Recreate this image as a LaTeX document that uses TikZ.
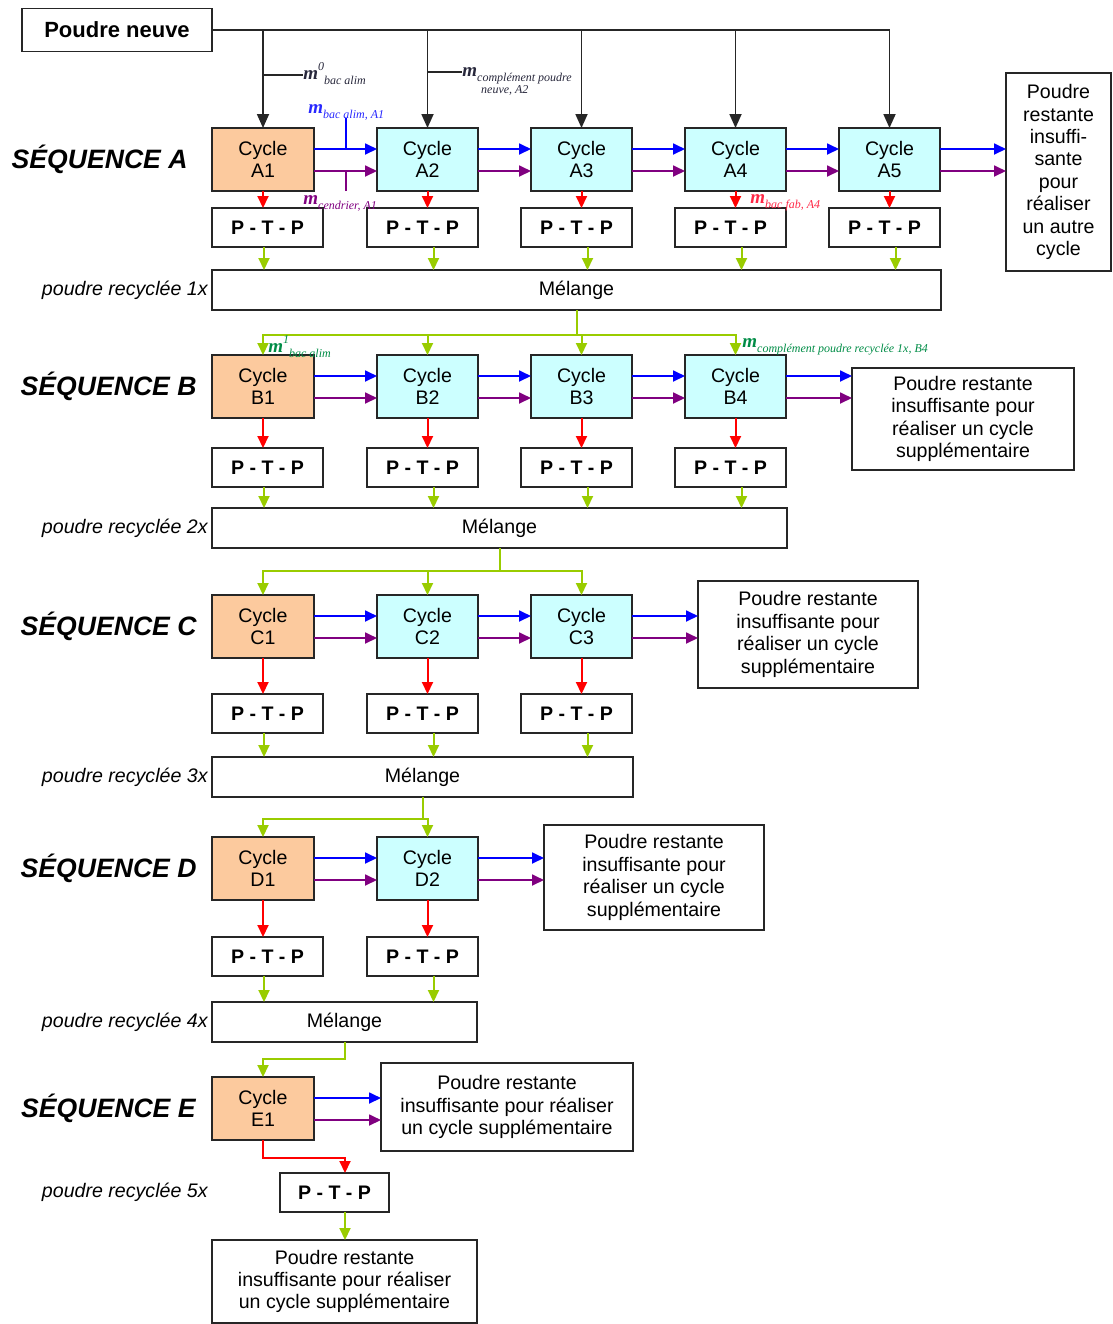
\documentclass[tikz,border=0pt]{standalone}
\usepackage{fontspec}
\setmainfont{Liberation Sans}
\newfontfamily\mfont{Liberation Serif}
\usetikzlibrary{arrows.meta,positioning}
\definecolor{CycOrange}{RGB}{252,202,158}
\definecolor{CycCyan}{RGB}{204,255,255}
\definecolor{FlowBlue}{RGB}{0,0,255}
\definecolor{FlowPurple}{RGB}{128,0,128}
\definecolor{FlowRed}{RGB}{255,0,0}
\definecolor{FlowGreen}{RGB}{153,204,0}
\definecolor{LabBlue}{RGB}{40,40,255}
\definecolor{LabRed}{RGB}{255,40,70}
\definecolor{LabGreen}{RGB}{0,140,70}
\definecolor{LabGray}{RGB}{40,40,60}

% m with optional exponent and index
\newcommand{\mlab}[2]{{\fontsize{9.5}{10}\selectfont\bfseries m}\raisebox{0.9ex}{\fontsize{6}{6}\selectfont #1}\raisebox{-0.6ex}{\fontsize{6}{6}\selectfont #2}}

\begin{document}
\begin{tikzpicture}[x=0.5pt,y=-0.5pt,
    cyc/.style={draw=black!85,line width=0.8pt,fill=CycCyan,minimum width=50.5pt,minimum height=31.5pt,
                inner sep=0pt,outer sep=0pt,align=center,font=\fontsize{9.8}{11.2}\selectfont},
    cycfirst/.style={cyc,fill=CycOrange,minimum width=51pt},
    ptp/.style={draw=black!85,line width=0.8pt,minimum width=55.5pt,minimum height=19.5pt,inner sep=0pt,
                outer sep=0pt,font=\bfseries\fontsize{9.8}{11}\selectfont},
    mel/.style={draw=black!85,line width=0.8pt,minimum height=20pt,inner sep=0pt,outer sep=0pt,
                font=\fontsize{9.8}{11}\selectfont},
    rest/.style={draw=black!85,line width=0.8pt,inner sep=0pt,outer sep=0pt,align=center,
                 font=\fontsize{9.8}{11.2}\selectfont},
    seqlab/.style={font=\bfseries\itshape\fontsize{13.3}{14}\selectfont,inner sep=0pt},
    recy/.style={font=\itshape\fontsize{9.8}{11}\selectfont,inner sep=1pt},
    mtext/.style={inner sep=0pt,font=\mfont\itshape,anchor=base west},
    tip/.style={-{Triangle[width=5.5pt,length=6pt]}},
    karr/.style={-{Triangle[width=6pt,length=7pt]},line width=0.9pt,black!85},
    barr/.style={tip,line width=0.9pt,FlowBlue},
    parr/.style={tip,line width=0.9pt,FlowPurple},
    rarr/.style={tip,line width=1pt,FlowRed},
    garr/.style={tip,line width=1pt,FlowGreen},
    gline/.style={line width=1pt,FlowGreen}
  ]
  \useasboundingbox (0,0) rectangle (1113,1324);

  \node[draw=black!85,line width=0.8pt,outer sep=0pt,minimum width=95pt,minimum height=21.5pt,
        font=\bfseries\fontsize{11}{12}\selectfont] (neuve) at (117,30) {Poudre neuve};

  % sequence A
  \node[cycfirst] (cA1) at (263,159.5) {Cycle\\A1};
  \node[cyc,right=31.5pt of cA1] (cA2) {Cycle\\A2};
  \node[cyc,right=26.5pt of cA2] (cA3) {Cycle\\A3};
  \node[cyc,right=26.5pt of cA3] (cA4) {Cycle\\A4};
  \node[cyc,right=26.5pt of cA4] (cA5) {Cycle\\A5};
  \node[seqlab,left=12pt of cA1] (sA) {SÉQUENCE A};
  \node[rest,minimum width=52.5pt,minimum height=99pt] (rA) at (1058.5,172)
       {Poudre\\restante\\insuffi-\\sante\\pour\\réaliser\\un autre\\cycle};
  \node[ptp,below=8.5pt of cA1.south west,anchor=north west] (pA1) {P - T - P};
  \foreach \n in {A2,A3,A4,A5}
    \node[ptp,below=8.5pt of c\n.south east,anchor=north east] (p\n) {P - T - P};
  \node[mel,minimum width=364.5pt,below=11.5pt of pA1.south west,anchor=north west] (mA) {Mélange};
  \node[recy,left=1pt of mA] (rcA) {poudre recyclée 1x};

  % sequence B
  \node[cycfirst,below=22.5pt of mA.south west,anchor=north west] (cB1) {Cycle\\B1};
  \node[cyc,right=31.5pt of cB1] (cB2) {Cycle\\B2};
  \node[cyc,right=26.5pt of cB2] (cB3) {Cycle\\B3};
  \node[cyc,right=26.5pt of cB3] (cB4) {Cycle\\B4};
  \node[seqlab,left=7.5pt of cB1] (sB) {SÉQUENCE B};
  \node[rest,minimum width=111pt,minimum height=51pt] (rB) at (963,419)
       {Poudre restante\\insuffisante pour\\réaliser un cycle\\supplémentaire};
  \node[ptp,below=15pt of cB1.south west,anchor=north west] (pB1) {P - T - P};
  \foreach \n in {B2,B3,B4}
    \node[ptp,below=15pt of c\n.south east,anchor=north east] (p\n) {P - T - P};
  \node[mel,minimum width=287.5pt,below=10.5pt of pB1.south west,anchor=north west] (mB) {Mélange};
  \node[recy,left=1pt of mB] (rcB) {poudre recyclée 2x};

  % sequence C
  \node[cycfirst,below=23.5pt of mB.south west,anchor=north west] (cC1) {Cycle\\C1};
  \node[cyc,right=31.5pt of cC1] (cC2) {Cycle\\C2};
  \node[cyc,right=26.5pt of cC2] (cC3) {Cycle\\C3};
  \node[seqlab,left=7.5pt of cC1] (sC) {SÉQUENCE C};
  \node[rest,minimum width=110pt,minimum height=53.5pt] (rC) at (808,634.5)
       {Poudre restante\\insuffisante pour\\réaliser un cycle\\supplémentaire};
  \node[ptp,below=18pt of cC1.south west,anchor=north west] (pC1) {P - T - P};
  \foreach \n in {C2,C3}
    \node[ptp,below=18pt of c\n.south east,anchor=north east] (p\n) {P - T - P};
  \node[mel,minimum width=210.5pt,below=12pt of pC1.south west,anchor=north west] (mC) {Mélange};
  \node[recy,left=1pt of mC] (rcC) {poudre recyclée 3x};

  % sequence D
  \node[cycfirst,below=20pt of mC.south west,anchor=north west] (cD1) {Cycle\\D1};
  \node[cyc,right=31.5pt of cD1] (cD2) {Cycle\\D2};
  \node[seqlab,left=7.5pt of cD1] (sD) {SÉQUENCE D};
  \node[rest,minimum width=110pt,minimum height=52.5pt] (rD) at (654,877.5)
       {Poudre restante\\insuffisante pour\\réaliser un cycle\\supplémentaire};
  \node[ptp,below=18.5pt of cD1.south west,anchor=north west] (pD1) {P - T - P};
  \node[ptp,below=18.5pt of cD2.south east,anchor=north east] (pD2) {P - T - P};
  \node[mel,minimum width=132.5pt,below=13pt of pD1.south west,anchor=north west] (mD) {Mélange};
  \node[recy,left=1pt of mD] (rcD) {poudre recyclée 4x};

  % sequence E
  \node[cycfirst,below=17.5pt of mD.south west,anchor=north west] (cE1) {Cycle\\E1};
  \node[seqlab,left=8pt of cE1] (sE) {SÉQUENCE E};
  \node[rest,minimum width=126pt,minimum height=44pt] (rE) at (507,1107)
       {Poudre restante\\insuffisante pour réaliser\\un cycle supplémentaire};
  \node[ptp,minimum width=54.5pt] (pE) at (334.5,1192.5) {P - T - P};
  \node[recy,left=1pt] (rcE) at (mD.west |- pE.west) {poudre recyclée 5x};
  \node[rest,minimum width=132.5pt,minimum height=41.5pt] (fin) at (344.5,1281.5)
       {Poudre restante\\insuffisante pour réaliser\\un cycle supplémentaire};

  % poudre neuve
  \draw[karr] (neuve.east) -| (cA5.north);
  \foreach \c in {cA1,cA2,cA3,cA4}
    \draw[karr] (neuve.east -| \c.north) -- (\c.north);
  \coordinate (t0) at (303,75);
  \draw[line width=0.8pt,black!85] (cA1.north |- t0) -- (t0);
  \node[mtext,text=LabGray] (m0) at ([yshift=-2pt]t0) {\mlab{0}{bac alim}};
  \coordinate (t1) at (462,72);
  \draw[line width=0.8pt,black!85] (cA2.north |- t1) -- (t1);
  \node[mtext,text=LabGray] (m1) at ([yshift=-2pt]t1)
       {\mlab{}{\parbox[t]{70pt}{complément poudre\\\hspace*{2pt}neuve, A2}}};

  % blue and purple outputs
  \foreach \c in {cA1,cA2,cA3,cA4,cA5,cB1,cB2,cB3,cB4,cC1,cC2,cC3,cD1,cD2,cE1} {
    \coordinate (\c-b) at ([yshift=5.25pt]\c.east);
    \coordinate (\c-p) at ([yshift=-5.75pt]\c.east);
  }
  \foreach \x/\y in {cA1/cA2,cA2/cA3,cA3/cA4,cA4/cA5,cA5/rA,cB1/cB2,cB2/cB3,cB3/cB4,cB4/rB,
                     cC1/cC2,cC2/cC3,cC3/rC,cD1/cD2,cD2/rD,cE1/rE} {
    \draw[barr] (\x-b) -- (\x-b -| \y.west);
    \draw[parr] (\x-p) -- (\x-p -| \y.west);
  }
  \coordinate (tb) at (346,118);
  \coordinate (tp) at (346,191);
  \draw[line width=0.8pt,FlowBlue] (tb) -- (tb |- cA1-b);
  \draw[line width=0.8pt,FlowPurple] (tp) -- (tp |- cA1-p);
  \node[mtext,text=LabBlue] (mb) at (308,113) {\mlab{}{bac alim, A1}};
  \node[mtext,text=FlowPurple] (mp) at (303,204) {\mlab{}{cendrier, A1}};

  % red: to P-T-P
  \foreach \n in {A1,A2,A3,A4,A5,B1,B2,B3,B4,C1,C2,C3,D1,D2}
    \draw[rarr] (c\n.south) -- (c\n.south |- p\n.north);
  \node[mtext,text=LabRed] (mr) at (750,203) {\mlab{}{bac fab, A4}};
  \coordinate (pEin) at ([xshift=5.25pt]pE.north);
  \draw[rarr] (cE1.south) -- ++(0,18) -| (pEin);

  % green: recycled powder
  \foreach \n/\s/\m in {A1/-1.75/mA,A2/5.5/mA,A3/5.5/mA,A4/5.5/mA,A5/5.5/mA,
                        B1/-1.75/mB,B2/5.5/mB,B3/5.5/mB,B4/5.5/mB,
                        C1/-1.75/mC,C2/5.5/mC,C3/5.5/mC,D1/-1.75/mD,D2/5.5/mD}
    \draw[garr] ([xshift=\s pt]p\n.south) -- ([xshift=\s pt]p\n.south |- \m.north);
  \draw[gline] (mA.south) -- ++(0,25) coordinate (jA);
  \foreach \c in {cB1,cB2,cB3,cB4}
    \draw[garr] (jA) -| (\c.north);
  \draw[gline] (mB.south) -- ++(0,23) coordinate (jB);
  \foreach \c in {cC1,cC2,cC3}
    \draw[garr] (jB) -| (\c.north);
  \draw[gline] (mC.south) -- ++(0,22) coordinate (jC);
  \foreach \c in {cD1,cD2}
    \draw[garr] (jC) -| (\c.north);
  \draw[garr] (mD.south) -- ++(0,17) -| (cE1.north);
  \draw[garr] ([xshift=5.25pt]pE.south) -- ([xshift=5.25pt]pE.south |- fin.north);
  \node[mtext,text=LabGreen] (mg1) at (268,352) {\mlab{1}{bac alim}};
  \node[mtext,text=LabGreen] (mg2) at (742,347) {\mlab{}{complément poudre recyclée 1x, B4}};
\end{tikzpicture}
\end{document}
